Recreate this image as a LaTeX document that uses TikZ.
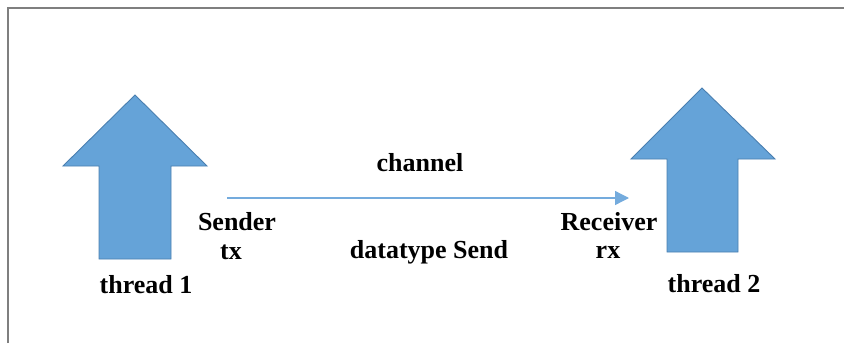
\documentclass[tikz,border=0pt]{standalone}
\usepackage{fontspec}
\setmainfont{Liberation Serif}
\usetikzlibrary{arrows.meta}
\definecolor{arrfill}{HTML}{65A3D8}
\definecolor{arrline}{HTML}{4A7FB0}
\definecolor{chan}{HTML}{74ABDD}
\definecolor{frame}{HTML}{7F7F7F}
\tikzset{
  lbl/.style={font=\fontsize{26}{28}\selectfont\bfseries, inner sep=0pt, anchor=center},
  thick arrow/.style={fill=arrfill, draw=arrline, line width=0.9pt, line join=miter},
  chanline/.style={draw=chan, line width=1.3pt, -{Triangle[length=14pt,width=14pt]}}
}
\begin{document}
\begin{tikzpicture}[x=1pt,y=-1pt]
\useasboundingbox (0,0) rectangle (844,343);
% frame (top and left only)
\draw[frame, line width=1.5pt] (8,343) -- (8,8) -- (844,8);
% thread 1 arrow
\path[thick arrow] (135,95) -- (207,166) -- (171,166) -- (171,259) -- (99,259) -- (99,166) -- (63,166) -- cycle;
% thread 2 arrow
\path[thick arrow] (702,88) -- (775,159) -- (738,159) -- (738,252) -- (667,252) -- (667,159) -- (631,159) -- cycle;
% labels
\node[lbl] (channel) at (420,163) {channel};
\node[lbl] (sender) at (237,222) {Sender};
\node[lbl] (tx) at (231,252) {tx};
\node[lbl] (dtype) at (429,252) {datatype Send};
\node[lbl] (receiver) at (609,222) {Receiver};
\node[lbl] (rx) at (608,252) {rx};
\node[lbl] (t1) at (146,285) {thread 1};
\node[lbl] (t2) at (714,284) {thread 2};
% channel connector
\coordinate (cstart) at (227,198);
\coordinate (cend) at (629,198);
\draw[chanline] (cstart) -- (cend);
\end{tikzpicture}
\end{document}
